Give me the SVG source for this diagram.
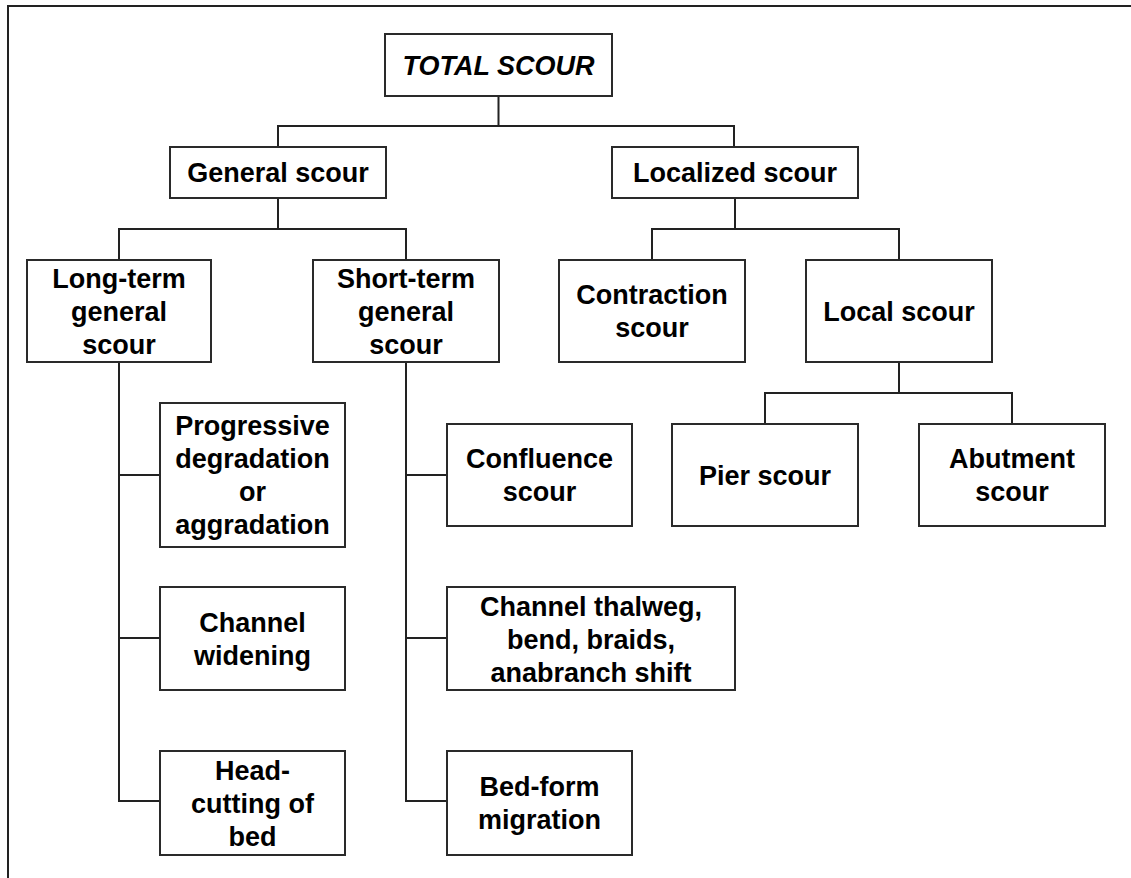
<svg xmlns="http://www.w3.org/2000/svg" width="1131" height="878" viewBox="0 0 1131 878">
<style>
.box{fill:#fff;stroke:#2a2a2a;stroke-width:2}
.t{font-family:"Liberation Sans",Arial,sans-serif;font-weight:bold;font-size:27px;fill:#000;text-anchor:middle}
.it{font-style:italic}
.c{fill:none;stroke:#222;stroke-width:2}
</style>
<rect width="1131" height="878" fill="#fff"/>
<path d="M8,878 V6 H1131" fill="none" stroke="#222" stroke-width="2"/>
<g id="connectors" class="c">
<path d="M498.5,96 V126 M278,147 V126 H734 V147"/>
<path d="M278,198 V229 M119,260 V229 H406 V260"/>
<path d="M735,198 V229 M652,260 V229 H899 V260"/>
<path d="M899,362 V393 M765,424 V393 H1012 V424"/>
<path d="M119,362 V801 H160 M119,475 H160 M119,638 H160"/>
<path d="M406,362 V801 H447 M406,475 H447 M406,638 H447"/>
</g>
<g id="total"><rect class="box" x="385" y="34" width="227" height="62"/><text class="t it" x="498.5" y="74.5">TOTAL SCOUR</text></g>
<g id="general"><rect class="box" x="170" y="147" width="216" height="51"/><text class="t" x="278" y="182">General scour</text></g>
<g id="localized"><rect class="box" x="612" y="147" width="246" height="51"/><text class="t" x="735" y="182">Localized scour</text></g>
<g id="longterm"><rect class="box" x="27" y="260" width="184" height="102"/><text class="t" x="119"><tspan x="119" y="287.5">Long-term</tspan><tspan x="119" y="320.5">general</tspan><tspan x="119" y="353.5">scour</tspan></text></g>
<g id="shortterm"><rect class="box" x="313" y="260" width="186" height="102"/><text class="t" x="406"><tspan x="406" y="287.5">Short-term</tspan><tspan x="406" y="320.5">general</tspan><tspan x="406" y="353.5">scour</tspan></text></g>
<g id="contraction"><rect class="box" x="559" y="260" width="186" height="102"/><text class="t" x="652"><tspan x="652" y="304">Contraction</tspan><tspan x="652" y="337">scour</tspan></text></g>
<g id="local"><rect class="box" x="806" y="260" width="186" height="102"/><text class="t" x="899" y="320.5">Local scour</text></g>
<g id="pier"><rect class="box" x="672" y="424" width="186" height="102"/><text class="t" x="765" y="484.5">Pier scour</text></g>
<g id="abutment"><rect class="box" x="919" y="424" width="186" height="102"/><text class="t" x="1012"><tspan x="1012" y="468">Abutment</tspan><tspan x="1012" y="501">scour</tspan></text></g>
<g id="progressive"><rect class="box" x="160" y="403" width="185" height="144"/><text class="t" x="252.5"><tspan x="252.5" y="435">Progressive</tspan><tspan x="252.5" y="468">degradation</tspan><tspan x="252.5" y="501">or</tspan><tspan x="252.5" y="534">aggradation</tspan></text></g>
<g id="widening"><rect class="box" x="160" y="587" width="185" height="103"/><text class="t" x="252.5"><tspan x="252.5" y="631.5">Channel</tspan><tspan x="252.5" y="664.5">widening</tspan></text></g>
<g id="headcut"><rect class="box" x="160" y="751" width="185" height="104"/><text class="t" x="252.5"><tspan x="252.5" y="779.5">Head-</tspan><tspan x="252.5" y="812.5">cutting of</tspan><tspan x="252.5" y="845.5">bed</tspan></text></g>
<g id="confluence"><rect class="box" x="447" y="424" width="185" height="102"/><text class="t" x="539.5"><tspan x="539.5" y="468">Confluence</tspan><tspan x="539.5" y="501">scour</tspan></text></g>
<g id="thalweg"><rect class="box" x="447" y="587" width="288" height="103"/><text class="t" x="591"><tspan x="591" y="615.5">Channel thalweg,</tspan><tspan x="591" y="648.5">bend, braids,</tspan><tspan x="591" y="681.5">anabranch shift</tspan></text></g>
<g id="bedform"><rect class="box" x="447" y="751" width="185" height="104"/><text class="t" x="539.5"><tspan x="539.5" y="796">Bed-form</tspan><tspan x="539.5" y="829">migration</tspan></text></g>
</svg>
